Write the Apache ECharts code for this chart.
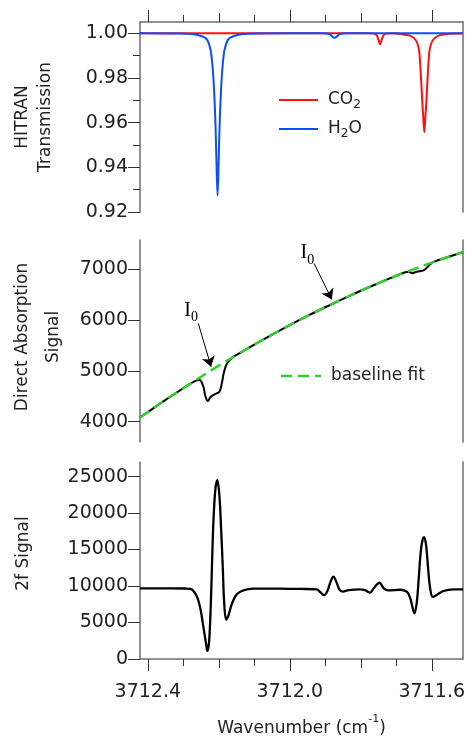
<!DOCTYPE html>
<html><head><meta charset="utf-8">
<script src="https://cdn.jsdelivr.net/npm/echarts@6/dist/echarts.min.js"></script>
<style>html,body{margin:0;padding:0;background:#fff}#c{width:466px;height:739px}</style>
</head><body><div id="c"></div>
<script>
// ---- tick values ----
const xLabelTicks = [3711.6, 3712.0, 3712.4];
const xMidTicks = [3711.8, 3712.2];
const xMinorTicks = [3711.7, 3711.9, 3712.1, 3712.3];
const transTicks = [0.92, 0.94, 0.96, 0.98, 1.00];
const transMinorTicks = [0.93, 0.95, 0.97, 0.99];
const absTicks = [4000, 5000, 6000, 7000];
const twofTicks = [0, 5000, 10000, 15000, 20000, 25000];

// ---- HITRAN transmission ----
const co2Wn = [3712.422, 3711.780, 3711.7625, 3711.7550, 3711.7500, 3711.7456, 3711.7412, 3711.7362, 3711.7287, 3711.7100, 3711.6914, 3711.6633, 3711.6500, 3711.6407, 3711.6351, 3711.6303, 3711.6266, 3711.6238, 3711.6210, 3711.6182, 3711.6154, 3711.6117, 3711.6069, 3711.6013, 3711.5920, 3711.5787, 3711.5506, 3711.512];
const co2T = [1.0000, 1.0000, 0.9998, 0.9990, 0.9970, 0.9950, 0.9970, 0.9990, 0.9998, 1.0000, 0.9997, 0.9990, 0.9978, 0.9955, 0.9915, 0.9800, 0.9690, 0.9620, 0.9557, 0.9620, 0.9690, 0.9800, 0.9915, 0.9955, 0.9978, 0.9990, 0.9997, 1.0000];
const h2oWn = [3712.422, 3712.3162, 3712.2739, 3712.2458, 3712.2325, 3712.2232, 3712.2176, 3712.2128, 3712.2091, 3712.2063, 3712.2035, 3712.2007, 3712.1979, 3712.1942, 3712.1894, 3712.1838, 3712.1745, 3712.1612, 3712.1331, 3712.0908, 3711.908, 3711.888, 3711.8825, 3711.874, 3711.8655, 3711.860, 3711.840, 3711.512];
const h2oT = [1.0000, 0.9999, 0.9996, 0.9985, 0.9970, 0.9926, 0.9852, 0.9730, 0.9580, 0.9407, 0.9274, 0.9407, 0.9580, 0.9730, 0.9852, 0.9926, 0.9970, 0.9985, 0.9996, 0.9999, 1.0000, 0.9996, 0.9988, 0.9979, 0.9988, 0.9996, 1.0000, 1.0000];

// ---- direct absorption ----
const absWn = [3712.422, 3712.40, 3712.35, 3712.30, 3712.281, 3712.262, 3712.2546, 3712.2434, 3712.2386, 3712.2310, 3712.2225, 3712.2104, 3712.1983, 3712.1915, 3712.1851, 3712.1758, 3712.1589, 3712.15, 3712.10, 3712.05, 3712.00, 3711.95, 3711.90, 3711.85, 3711.80, 3711.75, 3711.70, 3711.675, 3711.664, 3711.6555, 3711.647, 3711.6358, 3711.6217, 3711.6132, 3711.6048, 3711.5963, 3711.55, 3711.512];
const absSig = [4085, 4190, 4430, 4660, 4745, 4815, 4821, 4689, 4526, 4407, 4492, 4545, 4591, 4756, 4984, 5161, 5280, 5315, 5520, 5715, 5905, 6085, 6255, 6420, 6580, 6730, 6875, 6945, 6955, 6925, 6945, 6965, 6985, 7040, 7100, 7145, 7255, 7340];
const fitWn = [3712.422, 3712.40, 3712.35, 3712.30, 3712.25, 3712.20, 3712.15, 3712.10, 3712.05, 3712.00, 3711.95, 3711.90, 3711.85, 3711.80, 3711.75, 3711.70, 3711.65, 3711.60, 3711.55, 3711.512];
const fitSig = [4080, 4190, 4430, 4660, 4885, 5105, 5315, 5520, 5715, 5905, 6085, 6255, 6420, 6580, 6730, 6875, 7005, 7135, 7255, 7340];

// ---- 2f signal ----
const twofWn = [3712.422, 3712.337, 3712.295, 3712.280, 3712.2715, 3712.2603, 3712.2507, 3712.2434, 3712.2366, 3712.2321, 3712.2273, 3712.2225, 3712.2189, 3712.2152, 3712.2096, 3712.2039, 3712.1983, 3712.1935, 3712.1887, 3712.1851, 3712.1794, 3712.1730, 3712.1634, 3712.1493, 3712.1307, 3712.1025, 3712.0273, 3711.9710, 3711.9239, 3711.9127, 3711.9034, 3711.8941, 3711.8845, 3711.8772, 3711.8696, 3711.8603, 3711.8507, 3711.8349, 3711.8020, 3711.7879, 3711.7738, 3711.7625, 3711.7476, 3711.7344, 3711.7223, 3711.6893, 3711.6704, 3711.6611, 3711.6546, 3711.6490, 3711.6423, 3711.6366, 3711.6310, 3711.6254, 3711.6217, 3711.6161, 3711.6104, 3711.6048, 3711.5972, 3711.5859, 3711.5673, 3711.5392, 3711.512];
const twofSig = [9690, 9690, 9660, 9600, 9322, 8417, 6620, 4364, 2337, 1100, 2342, 7525, 13375, 18779, 23278, 24500, 22386, 17873, 12470, 7971, 5400, 5944, 7525, 8876, 9416, 9640, 9650, 9600, 9550, 9093, 8750, 9322, 10673, 11300, 10673, 9551, 9227, 9430, 9551, 9430, 9093, 9768, 10450, 9633, 9400, 9490, 9227, 8417, 7160, 6255, 7741, 11119, 14726, 16442, 16700, 15631, 12470, 9768, 8511, 8782, 9322, 9551, 9551];

// ---- annotations (data coordinates) ----
const arrowStart = [[3712.2578, 5937], [3711.9315, 7118]];
const arrowEnd = [[3712.2217, 5083], [3711.8817, 6409]];
const i0Pos = [[3712.278, 6189], [3711.9504, 7325]];

const zip = (a, b) => a.map((x, i) => [x, b[i]]);
const XMIN = 3711.512, XMAX = 3712.422;
const FONT = 'DejaVu Sans';
const AX = '#6e6e6e', TK = '#333';
const RED = '#ff1010', BLUE = '#0b4dff', GREEN = '#2fcf2f';

const gb = {outerBoundsMode: 'none', containLabel: false};
const r1 = Object.assign({left: 140, right: 3, top: 22, height: 190}, gb);
const r2 = Object.assign({left: 140, right: 3, top: 240, height: 202}, gb);
const r3 = Object.assign({left: 140, right: 3, top: 462, height: 197}, gb);

function xAx(g, pos, o) {
  return Object.assign({type: 'value', gridIndex: g, position: pos, min: XMIN, max: XMAX, inverse: true,
    splitLine: {show: false}, axisLine: {show: false, onZero: false}, axisTick: {show: false}, axisLabel: {show: false}}, o);
}
function tick(vals, len) { return {show: true, inside: false, customValues: vals, length: len, lineStyle: {color: TK, width: 1}}; }
const line = {show: true, onZero: false, lineStyle: {color: AX, width: 1.5}};
const lab = (vals, dec, m) => ({show: true, customValues: vals, margin: m, fontFamily: FONT, fontSize: 19, color: '#222',
  formatter: v => dec === null ? String(Math.round(v)) : Number(v).toFixed(dec)});
function yAx(g, pos, min, max, o) {
  return Object.assign({type: 'value', gridIndex: g, position: pos, min: min, max: max,
    splitLine: {show: false}, axisLine: {show: false, onZero: false}, axisTick: {show: false}, axisLabel: {show: false}}, o);
}
const nameStyle = (lh, shift) => ({fontFamily: FONT, fontSize: 17, color: '#222', lineHeight: lh, padding: [0, 0, 0, shift]});
const dashIcon = 'path://M0,0H11V2H0Z M17,0H28V2H17Z M34,0H40V2H34Z';

const chart = echarts.init(document.getElementById('c'), null, {renderer: 'canvas'});
chart.setOption({
  animation: false,
  backgroundColor: '#fff',
  grid: [r1, r2, r3, r1, r1, r3, r3],
  xAxis: [
    xAx(0, 'top', {axisLine: line, axisTick: tick(xLabelTicks, 12)}),
    xAx(1, 'bottom', {show: false}),
    xAx(2, 'bottom', {axisLine: line, axisTick: tick(xLabelTicks, 12), axisLabel: lab(xLabelTicks, 1, 24),
      name: 'Wavenumber (cm{sup|-1})', nameLocation: 'middle', nameGap: 55,
      nameTextStyle: {fontFamily: FONT, fontSize: 17, color: '#222', lineHeight: 30,
        rich: {sup: {fontFamily: FONT, fontSize: 11, color: '#222', verticalAlign: 'top', lineHeight: 30}}}}),
    xAx(3, 'top', {axisTick: tick(xMidTicks, 9)}),
    xAx(4, 'top', {axisTick: tick(xMinorTicks, 7)}),
    xAx(5, 'bottom', {axisTick: tick(xMidTicks, 9)}),
    xAx(6, 'bottom', {axisTick: tick(xMinorTicks, 7)})
  ],
  yAxis: [
    yAx(0, 'left', 0.92, 1.005, {axisLine: line, axisTick: tick(transTicks, 12), axisLabel: lab(transTicks, 2, 12),
      name: 'HITRAN\nTransmission', nameLocation: 'middle', nameGap: 83, nameTextStyle: nameStyle(23, 0)}),
    yAx(0, 'right', 0.92, 1.005, {axisLine: line}),
    yAx(1, 'left', 3600, 7580, {axisLine: line, axisTick: tick(absTicks, 12), axisLabel: lab(absTicks, null, 12),
      name: 'Direct Absorption\nSignal', nameLocation: 'middle', nameGap: 71, nameTextStyle: nameStyle(31, 8)}),
    yAx(1, 'right', 3600, 7580, {axisLine: line}),
    yAx(2, 'left', 0, 27000, {axisLine: line, axisTick: tick(twofTicks, 12), axisLabel: lab(twofTicks, null, 12),
      name: '2f Signal', nameLocation: 'middle', nameGap: 106, nameTextStyle: nameStyle(20, 14)}),
    yAx(2, 'right', 0, 27000, {axisLine: line}),
    yAx(3, 'left', 0.92, 1.005, {axisTick: tick(transMinorTicks, 7)}),
    yAx(4, 'left', 0.92, 1.005, {show: false}),
    yAx(5, 'left', 0, 27000, {show: false}),
    yAx(6, 'left', 0, 27000, {show: false})
  ],
  legend: [
    {data: [{name: 'CO2', icon: 'rect'}, {name: 'H2O', icon: 'rect'}], orient: 'vertical', left: 279, top: 89, padding: 0,
      itemGap: 7, itemWidth: 39, itemHeight: 2, symbolKeepAspect: false,
      formatter: n => n === 'CO2' ? 'CO{sub|2}' : 'H{sub|2}O',
      textStyle: {fontFamily: FONT, fontSize: 17, color: '#222', lineHeight: 22, padding: [0, 0, 0, 5],
        rich: {sub: {fontFamily: FONT, fontSize: 12, color: '#222', verticalAlign: 'bottom', lineHeight: 22}}}},
    {data: [{name: 'baseline fit', icon: dashIcon}], left: 281, top: 365, padding: 0, itemWidth: 40, itemHeight: 2.5,
      symbolKeepAspect: false,
      textStyle: {fontFamily: FONT, fontSize: 17, color: '#222', lineHeight: 22, padding: [0, 0, 0, 5]}}
  ],
  series: [
    {name: 'CO2', type: 'line', xAxisIndex: 0, yAxisIndex: 0, data: zip(co2Wn, co2T), symbol: 'none',
      smooth: 0.3, lineStyle: {color: RED, width: 2}, itemStyle: {color: RED}, z: 3},
    {name: 'H2O', type: 'line', xAxisIndex: 0, yAxisIndex: 0, data: zip(h2oWn, h2oT), symbol: 'none',
      smooth: 0.3, lineStyle: {color: BLUE, width: 2}, itemStyle: {color: BLUE}, z: 4},
    {name: 'signal', type: 'line', xAxisIndex: 1, yAxisIndex: 2, data: zip(absWn, absSig), symbol: 'none',
      smooth: 0.4, lineStyle: {color: '#000', width: 2}, itemStyle: {color: '#000'}, z: 3},
    {name: 'baseline fit', type: 'line', xAxisIndex: 1, yAxisIndex: 2, data: zip(fitWn, fitSig), symbol: 'none',
      smooth: 0.5, lineStyle: {color: GREEN, width: 2.5, type: [11, 6]}, itemStyle: {color: GREEN}, z: 4,
      markLine: {silent: true, symbol: ['none', 'arrow'], symbolSize: 10, animation: false,
        lineStyle: {color: '#000', width: 1, type: 'solid'}, label: {show: false},
        data: arrowStart.map((s, i) => [{coord: s}, {coord: arrowEnd[i]}])},
      markPoint: {silent: true, symbol: 'circle', symbolSize: 0, animation: false,
        itemStyle: {color: 'rgba(0,0,0,0)'},
        label: {show: true, position: 'inside', formatter: 'I{sub|0}', fontFamily: 'Liberation Serif', fontSize: 20, color: '#000', lineHeight: 28,
          rich: {sub: {fontFamily: 'Liberation Serif', fontSize: 14, color: '#000', verticalAlign: 'bottom', lineHeight: 28}}},
        data: i0Pos.map(p => ({coord: p}))}},
    {name: '2f', type: 'line', xAxisIndex: 2, yAxisIndex: 4, data: zip(twofWn, twofSig), symbol: 'none',
      smooth: 0.35, lineStyle: {color: '#000', width: 2.3}, itemStyle: {color: '#000'}, z: 3}
  ]
});
</script></body></html>
